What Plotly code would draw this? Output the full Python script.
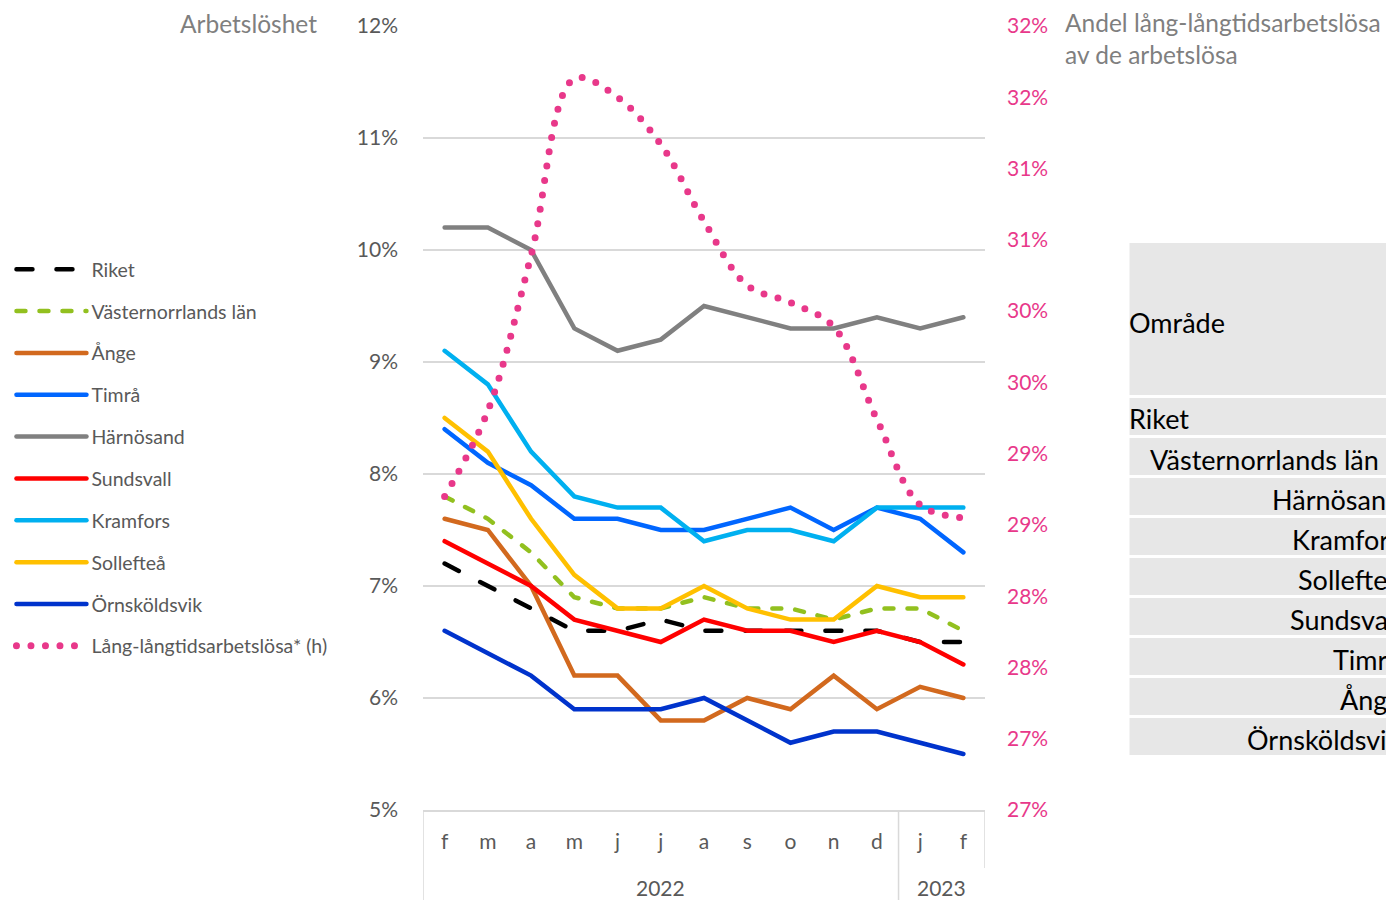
import plotly.graph_objects as go

# ---------------- data ----------------
months = ["f", "m", "a", "m", "j", "j", "a", "s", "o", "n", "d", "j", "f"]
years = ["2022"] * 11 + ["2023"] * 2
x_idx = list(range(len(months)))

riket = [7.2, 7.0, 6.8, 6.6, 6.6, 6.7, 6.6, 6.6, 6.6, 6.6, 6.6, 6.5, 6.5]
vasternorrland = [7.8, 7.6, 7.3, 6.9, 6.8, 6.8, 6.9, 6.8, 6.8, 6.7, 6.8, 6.8, 6.6]
ange = [7.6, 7.5, 7.0, 6.2, 6.2, 5.8, 5.8, 6.0, 5.9, 6.2, 5.9, 6.1, 6.0]
timra = [8.4, 8.1, 7.9, 7.6, 7.6, 7.5, 7.5, 7.6, 7.7, 7.5, 7.7, 7.6, 7.3]
harnosand = [10.2, 10.2, 10.0, 9.3, 9.1, 9.2, 9.5, 9.4, 9.3, 9.3, 9.4, 9.3, 9.4]
sundsvall = [7.4, 7.2, 7.0, 6.7, 6.6, 6.5, 6.7, 6.6, 6.6, 6.5, 6.6, 6.5, 6.3]
kramfors = [9.1, 8.8, 8.2, 7.8, 7.7, 7.7, 7.4, 7.5, 7.5, 7.4, 7.7, 7.7, 7.7]
solleftea = [8.5, 8.2, 7.6, 7.1, 6.8, 6.8, 7.0, 6.8, 6.7, 6.7, 7.0, 6.9, 6.9]
ornskoldsvik = [6.6, 6.4, 6.2, 5.9, 5.9, 5.9, 6.0, 5.8, 5.6, 5.7, 5.7, 5.6, 5.5]
lang_lang = [28.70, 29.30, 30.39, 31.63, 31.50, 31.17, 30.63, 30.18, 30.06, 29.89, 29.24, 28.64, 28.55]

left_tickvals = [5, 6, 7, 8, 9, 10, 11, 12]
left_ticktext = ["5%", "6%", "7%", "8%", "9%", "10%", "11%", "12%"]
right_tickvals = [26.5, 27.0, 27.5, 28.0, 28.5, 29.0, 29.5, 30.0, 30.5, 31.0, 31.5, 32.0]
right_ticktext = ["27%", "27%", "28%", "28%", "29%", "29%", "30%", "30%", "31%", "31%", "32%", "32%"]

table_header = "Område"
table_rows = ["Riket", "Västernorrlands län", "Härnösand", "Kramfors", "Sollefteå",
              "Sundsvall", "Timrå", "Ånge", "Örnsköldsvik"]

# ---------------- styles ----------------
FONT = "Lato"
GRAY_TXT = "#595959"
TITLE_GRAY = "#7f7f7f"
PINK = "#E8388A"
GRID = "#d9d9d9"

series = [
    ("Riket", riket, "#000000", "16px,24px"),
    ("Västernorrlands län", vasternorrland, "#92C01F", "9px,14px"),
    ("Ånge", ange, "#D2691E", "solid"),
    ("Timrå", timra, "#0066FF", "solid"),
    ("Härnösand", harnosand, "#808080", "solid"),
    ("Sundsvall", sundsvall, "#FF0000", "solid"),
    ("Kramfors", kramfors, "#00B0F0", "solid"),
    ("Sollefteå", solleftea, "#FFC000", "solid"),
    ("Örnsköldsvik", ornskoldsvik, "#0033CC", "solid"),
]

fig = go.Figure()
for i, (name, vals, col, dash) in enumerate(series):
    fig.add_trace(go.Scatter(
        x=x_idx, y=vals, name=name, mode="lines",
        line=dict(color=col, width=4.5, dash=dash),
        legendgroup=f"g{i}", yaxis="y",
    ))

fig.add_trace(go.Scatter(
    x=x_idx, y=lang_lang, name="Lång-långtidsarbetslösa* (h)", mode="lines",
    line=dict(color=PINK, width=7, dash="0px,14.5px", shape="spline", smoothing=1.0),
    legendgroup="g9", yaxis="y2",
))

W, H = 1386, 900
L, R, T, B = 421, 985, 26, 810
pw, ph = R - L, B - T


def px_x(p):
    return (p - L) / pw


def px_y(p):
    return (B - p) / ph


fig.update_layout(
    width=W, height=H,
    margin=dict(l=L, r=W - R, t=T, b=H - B, pad=0),
    paper_bgcolor="white", plot_bgcolor="white",
    font=dict(family=FONT, size=20, color=GRAY_TXT),
    showlegend=True,
    legend=dict(
        x=px_x(8), y=px_y(250), xanchor="left", yanchor="top",
        xref="paper", yref="paper",
        font=dict(family=FONT, size=19.5, color=GRAY_TXT),
        tracegroupgap=13.5, itemwidth=70, bgcolor="rgba(0,0,0,0)",
        itemclick=False,
    ),
    xaxis=dict(
        range=[-0.5, len(months) - 0.5], tickmode="array", tickvals=x_idx, ticktext=months,
        showgrid=False, zeroline=False, showline=True, linecolor=GRID, linewidth=1.5,
        ticks="", ticklabelstandoff=12, tickfont=dict(size=21, color=GRAY_TXT),
    ),
    yaxis=dict(
        range=[5, 12], tickmode="array", tickvals=left_tickvals, ticktext=left_ticktext,
        showgrid=True, gridcolor=GRID, gridwidth=1.5, zeroline=False, showline=False,
        ticks="", ticklabelstandoff=24, tickfont=dict(size=21, color=GRAY_TXT),
    ),
    yaxis2=dict(
        range=[26.5, 32.0], overlaying="y", side="right", tickmode="array",
        tickvals=right_tickvals, ticktext=right_ticktext,
        showgrid=False, zeroline=False, showline=False,
        ticks="", ticklabelstandoff=21, tickfont=dict(size=21, color=PINK),
    ),
)

# axis titles
fig.add_annotation(text="Arbetslöshet", xref="paper", yref="paper",
                   x=px_x(317), y=px_y(24), xanchor="right", yanchor="middle",
                   showarrow=False, font=dict(family=FONT, size=24.5, color=TITLE_GRAY))
fig.add_annotation(text="Andel lång-långtidsarbetslösa<br>av de arbetslösa", xref="paper", yref="paper",
                   x=px_x(1063), y=px_y(6), xanchor="left", yanchor="top", align="left",
                   showarrow=False, font=dict(family=FONT, size=24.5, color=TITLE_GRAY))

# year labels and separators for the two-level category axis
year_groups = []
for i, yv in enumerate(years):
    if not year_groups or year_groups[-1][0] != yv:
        year_groups.append([yv, i, i])
    else:
        year_groups[-1][2] = i
for yv, a, b in year_groups:
    fig.add_annotation(text=yv, xref="x", yref="paper", x=(a + b) / 2, y=px_y(887),
                       xanchor="center", yanchor="middle", showarrow=False,
                       font=dict(family=FONT, size=21, color=GRAY_TXT))
    fig.add_shape(type="line", xref="x", yref="paper", x0=a - 0.5, x1=a - 0.5,
                  y0=0, y1=px_y(905), line=dict(color=GRID, width=1.5))
last_b = year_groups[-1][2]
fig.add_shape(type="line", xref="x", yref="paper", x0=last_b + 0.5, x1=last_b + 0.5,
              y0=0, y1=px_y(868), line=dict(color=GRID, width=1.5))

# table fragment on the right
TBL_GRAY = "#e7e7e7"
fig.add_shape(type="rect", xref="paper", yref="paper", x0=px_x(1130), x1=px_x(1420),
              y0=px_y(395), y1=px_y(243), line=dict(width=0), fillcolor=TBL_GRAY, layer="below")
fig.add_annotation(text=table_header, xref="paper", yref="paper", x=px_x(1128), y=px_y(322),
                   xanchor="left", yanchor="middle", showarrow=False,
                   font=dict(family=FONT, size=27, color="#000000"))
for i, name in enumerate(table_rows):
    top = 398 + 40 * i
    fig.add_shape(type="rect", xref="paper", yref="paper", x0=px_x(1130), x1=px_x(1420),
                  y0=px_y(top + 37), y1=px_y(top), line=dict(width=0), fillcolor=TBL_GRAY, layer="below")
    if i == 0:
        xa, anc = 1128, "left"
    elif i == 1:
        xa, anc = 1149, "left"
    else:
        xa, anc = 1404, "right"
    fig.add_annotation(text=name, xref="paper", yref="paper", x=px_x(xa), y=px_y(top + 21),
                       xanchor=anc, yanchor="middle", showarrow=False,
                       font=dict(family=FONT, size=27, color="#000000"))

post = """
document.body.style.margin = '0';
document.body.style.padding = '0';
document.documentElement.style.overflow = 'hidden';
var gd = document.getElementById('{plot_id}');
function fixCaps(){
  gd.querySelectorAll('.scatterlayer path.js-line, .legend path.js-line').forEach(function(p){
    p.style.strokeLinecap = 'round';
  });
}
fixCaps();
gd.on('plotly_afterplot', fixCaps);
"""

fig.write_html("out.html", post_script=post, config={"displayModeBar": False})
